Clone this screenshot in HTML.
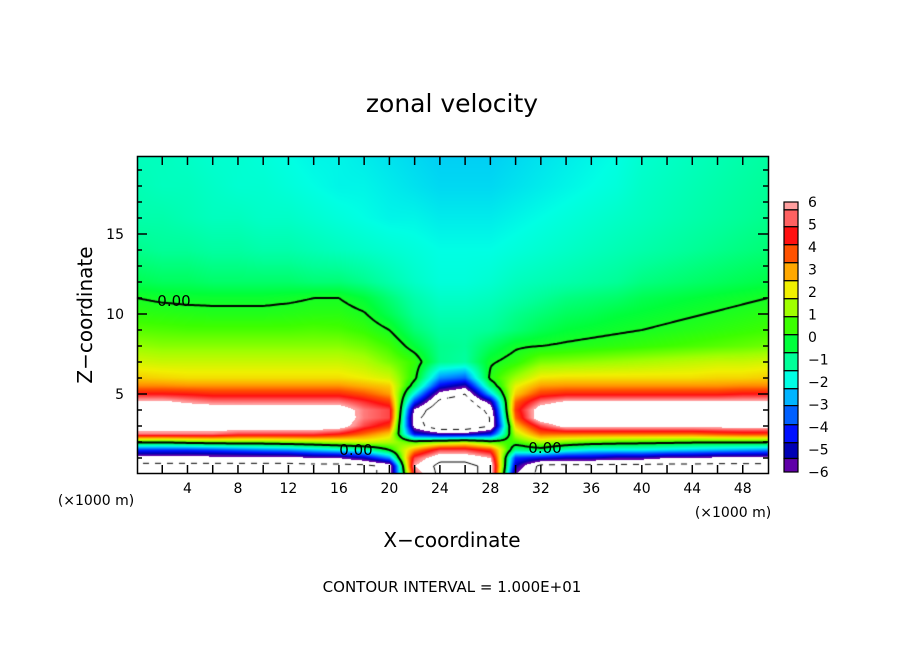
<!DOCTYPE html>
<html><head><meta charset="utf-8">
<style>
html,body{margin:0;padding:0;background:#fff;}
#root{position:relative;width:904px;height:654px;overflow:hidden;background:#fff;font-family:"DejaVu Sans","Liberation Sans",sans-serif;}
canvas{position:absolute;left:0;top:0;}
svg{position:absolute;left:0;top:0;}
</style></head>
<body>
<div id="root">
<canvas id="cv" width="904" height="654"></canvas>
<svg id="sv" width="904" height="654">
<text x="452" y="112" font-size="25" text-anchor="middle" fill="#000">zonal velocity</text>
<text x="452" y="547" font-size="20" text-anchor="middle" fill="#000">X−coordinate</text>
<text transform="translate(92,315) rotate(-90)" font-size="20" text-anchor="middle" fill="#000">Z−coordinate</text>
<text x="96" y="505" font-size="14" text-anchor="middle" fill="#000">(×1000 m)</text>
<text x="733" y="517" font-size="14" text-anchor="middle" fill="#000">(×1000 m)</text>
<text x="452" y="592" font-size="15" text-anchor="middle" fill="#000">CONTOUR INTERVAL = 1.000E+01</text>
<g id="ticks"></g>
<g id="cbar"></g>
<g id="clabels"></g>
</svg>
</div>
<script>
// ---- data ----
const xCols = [0,2,4,6,8,10,12,14,16,18,20,22,24,26,28,30,32,34,36,38,40,42,44,46,48,50];
const zLevels = [0,0.5,1,1.5,2,2.5,3,3.5,4,4.5,5,5.5,6,7,8,9,10,11,12,14,16,18,20];
const row_z0   = [-8,-8,-8,-8,-8,-8,-8,-8,-8,-8,-7,5,8,8,7,-6,-8,-8,-8,-8,-8,-8,-8,-8,-8,-8];
const row_z0_5 = [-8,-8,-8,-8,-8,-8,-8,-8,-8,-8,-7,6,8,8,7,-5,-8,-8,-8,-8,-8,-8,-8,-8,-8,-8];
const row_z1   = [-6.5,-6.5,-6.5,-6.5,-6.5,-6.5,-6.5,-6,-6,-5,-3,5,7,7,6,-4,-4.5,-5,-5,-5.5,-5.5,-6,-6,-6.3,-6.3,-6.3];
const row_z1_5 = [-4,-4,-4,-3.8,-3.5,-3.2,-3,-2.5,-2,-1.5,0,3,5,5,4,-1,-0.5,-1.5,-2,-2,-2,-2.2,-2.4,-2.6,-2.8,-3];
const row_z2   = [0.3,0.2,0.5,0.7,0.8,0.8,1,1.2,1.5,1.8,1.5,0.5,1,1.5,0.5,0.5,1.5,1,0.7,0.5,0.4,0.3,0.2,0.2,0.2,0.2];
const row_z2_5 = [5.5,5.5,5.5,5.5,5,5,5,5,4.5,3.5,2.5,-4.5,-5.5,-5.5,-4.5,1.5,3.5,3.5,3.5,3.5,3.5,3.5,3.5,3.8,4,4];
const row_z3   = [7,7,7,7,7,7,7,7,6.8,5,4,-6.5,-9,-9,-7.5,2.5,5,6.5,6.5,6.5,6.5,6.5,6.5,6.5,6.5,6.5];
const row_z3_5 = [7.2,7.2,7.2,7.2,7.2,7.2,7.2,7.2,7,5.5,5,-7,-9,-9,-7.5,3.5,7,7.2,7.2,7.2,7.2,7.2,7.2,7.2,7.2,7.2];
const row_z4   = [7.1,7.1,7.1,7,6.8,7,7,7,6.8,5.5,5,-6.2,-9,-9,-7,4,6.8,7.1,7.1,7.1,7.1,7.1,7.1,7.1,7.1,7.1];
const row_z4_5 = [6.3,6.3,5.8,5.5,5.5,5.5,5.5,5.5,5.5,4.8,4,-4,-8,-8.5,-5.5,3.5,5.5,6.2,6.2,6.2,6.2,6.2,6.2,6.2,6.2,6.2];
const row_z5   = [4.5,4.5,4.4,4.2,4.2,4.2,4.2,4.2,4.2,3.7,3,-2,-6.5,-7.5,-2.5,2.5,4,4.3,4.3,4.3,4.3,4.3,4.3,4.3,4.5,4.5];
const row_z5_5 = [3.2,3.2,3.1,3.1,3.1,3.1,3.1,3.1,3.1,2.8,2.5,-0.5,-4.5,-5.5,-0.7,2,3,3.1,3.1,3.1,3.1,3.1,3.1,3.1,3.2,3.2];
const row_z6   = [2.5,2.4,2.3,2.3,2.3,2.3,2.3,2.3,2.3,2.1,1.8,0.2,-3,-3.5,0.2,1.3,2.2,2.3,2.3,2.3,2.3,2.3,2.3,2.4,2.4,2.5];
const row_z7   = [1.8,1.7,1.7,1.7,1.7,1.7,1.7,1.7,1.7,1.5,1.0,0.4,-1.0,-1.2,-0.1,0.3,1.0,1.1,1.2,1.3,1.4,1.5,1.6,1.7,1.7,1.8];
const row_z8   = [1.2,1.1,1.1,1.1,1.1,1.1,1.1,1.1,1.1,0.9,0.5,-0.3,-1.0,-1.1,-0.6,-0.1,0.0,0.1,0.2,0.3,0.4,0.5,0.6,0.7,0.8,0.9];
const row_z9   = [0.7,0.65,0.6,0.6,0.6,0.6,0.6,0.65,0.6,0.4,0.0,-0.8,-1.2,-1.2,-1.1,-0.8,-0.5,-0.3,-0.2,-0.1,0.0,0.1,0.2,0.3,0.4,0.5];
const row_z10  = [0.3,0.25,0.2,0.15,0.15,0.15,0.2,0.25,0.25,0.05,-0.5,-1.1,-1.4,-1.4,-1.3,-1.0,-0.8,-0.6,-0.5,-0.35,-0.25,-0.15,-0.05,0.05,0.15,0.25];
const row_z11  = [0.0,-0.1,-0.15,-0.15,-0.15,-0.15,-0.1,0.0,0.0,-0.3,-0.8,-1.3,-1.6,-1.6,-1.5,-1.3,-1.1,-0.9,-0.8,-0.7,-0.5,-0.4,-0.3,-0.2,-0.1,0.0];
const row_z12  = [-0.5,-0.6,-0.6,-0.7,-0.7,-0.7,-0.7,-0.8,-0.8,-1.0,-1.3,-1.6,-1.8,-1.8,-1.7,-1.5,-1.4,-1.3,-1.2,-1.1,-0.9,-0.8,-0.7,-0.6,-0.5,-0.4];
const row_z14  = [-1.0,-1.1,-1.1,-1.2,-1.2,-1.3,-1.3,-1.4,-1.5,-1.6,-1.7,-1.8,-1.9,-1.9,-1.9,-1.8,-1.7,-1.6,-1.5,-1.4,-1.3,-1.2,-1.1,-1.0,-0.9,-0.8];
const row_z16  = [-1.3,-1.3,-1.4,-1.5,-1.5,-1.6,-1.6,-1.7,-1.8,-1.9,-2.0,-2.0,-2.1,-2.1,-2.1,-2.0,-1.9,-1.8,-1.7,-1.6,-1.5,-1.4,-1.3,-1.2,-1.1,-1.0];
const row_z18  = [-1.4,-1.5,-1.5,-1.6,-1.7,-1.7,-1.8,-1.9,-2.0,-2.0,-2.1,-2.2,-2.3,-2.3,-2.3,-2.2,-2.1,-2.0,-1.9,-1.8,-1.6,-1.5,-1.4,-1.3,-1.2,-1.1];
const row_z20  = [-1.5,-1.5,-1.6,-1.7,-1.7,-1.8,-1.9,-2.0,-2.0,-2.1,-2.2,-2.3,-2.4,-2.4,-2.4,-2.3,-2.2,-2.1,-2.0,-1.9,-1.7,-1.6,-1.5,-1.4,-1.3,-1.2];
const fieldRows = [row_z0,row_z0_5,row_z1,row_z1_5,row_z2,row_z2_5,row_z3,row_z3_5,row_z4,row_z4_5,row_z5,row_z5_5,row_z6,row_z7,row_z8,row_z9,row_z10,row_z11,row_z12,row_z14,row_z16,row_z18,row_z20];
const xTickLabels = [4,8,12,16,20,24,28,32,36,40,44,48];
const yTickLabels = [5,10,15];
const cbarLabels = [6,5,4,3,2,1,0,-1,-2,-3,-4,-5,-6];
const cbarBounds = [6,5.65,4.9,4.1,3.3,2.5,1.7,0.9,0.1,-0.7,-1.5,-2.3,-3.05,-3.9,-4.7,-5.4,-6];
const cbarColors = ['#ff9f9f','#ff6262','#ff1010','#ff5200','#ffa800','#f0f000','#a0ff00','#3cff00','#00ff3a','#00ff98','#00ffe4','#00b4ff','#0060ff','#0010ff','#0000b4','#6000a8'];

// ---- scales ----
const PL=137, PR=768, PT=156, PB=474;
const xScale = X => PL + X*(PR-PL)/50;
const yScale = Z => PB - Z*16;
const xInv = px => (px-PL)*50/(PR-PL);
const zInv = py => (PB-py)/16;

function field(X,Z){
  X=Math.max(0,Math.min(50,X)); Z=Math.max(0,Math.min(20,Z));
  let i=Math.min(xCols.length-2,Math.floor(X/2)); let tx=(X-xCols[i])/(xCols[i+1]-xCols[i]);
  let j=0; while(j<zLevels.length-2 && Z>zLevels[j+1]) j++;
  let tz=(Z-zLevels[j])/(zLevels[j+1]-zLevels[j]);
  const a=fieldRows[j][i],b=fieldRows[j][i+1],c=fieldRows[j+1][i],d=fieldRows[j+1][i+1];
  return (a*(1-tx)+b*tx)*(1-tz)+(c*(1-tx)+d*tx)*tz;
}
function hex(h){return [parseInt(h.substr(1,2),16),parseInt(h.substr(3,2),16),parseInt(h.substr(5,2),16)];}
const stops = cbarColors.map((c,k)=>({v:(cbarBounds[k]+cbarBounds[k+1])/2,c:hex(c)}));
function colorOf(v){
  if(v>6||v<-6) return [255,255,255];
  if(v>=stops[0].v) return stops[0].c;
  if(v<=stops[stops.length-1].v) return stops[stops.length-1].c;
  for(let k=0;k<stops.length-1;k++){
    const s0=stops[k],s1=stops[k+1];
    if(v<=s0.v&&v>=s1.v){const t=(s0.v-v)/(s0.v-s1.v);return [0,1,2].map(q=>s0.c[q]*(1-t)+s1.c[q]*t);}
  }
  return [255,255,255];
}

const cv=document.getElementById('cv'); const ctx=cv.getContext('2d');
const W=PR-PL, H=PB-PT;
const img=ctx.createImageData(W,H);
for(let py=0;py<H;py++){for(let px=0;px<W;px++){
  const v=field(xInv(PL+px+0.5),zInv(PT+py+0.5)); const c=colorOf(v); const o=(py*W+px)*4;
  img.data[o]=c[0];img.data[o+1]=c[1];img.data[o+2]=c[2];img.data[o+3]=255;}}
ctx.putImageData(img,PL,PT);

function contour(level,width,dashed){
  const st=2; ctx.strokeStyle='#000'; ctx.lineWidth=width; ctx.beginPath();
  const nx=Math.floor(W/st), ny=Math.floor(H/st); const g=[];
  for(let j=0;j<=ny;j++){g.push([]);for(let i=0;i<=nx;i++)g[j].push(field(xInv(PL+i*st),zInv(PT+j*st))-level);}
  for(let j=0;j<ny;j++)for(let i=0;i<nx;i++){
    const v=[g[j][i],g[j][i+1],g[j+1][i+1],g[j+1][i]];
    const p=[[0,0],[1,0],[1,1],[0,1]]; const pts=[];
    for(let e=0;e<4;e++){const a=v[e],b=v[(e+1)%4]; if((a<0)!==(b<0)){const t=a/(a-b);
      pts.push([PL+(i+p[e][0]+(p[(e+1)%4][0]-p[e][0])*t)*st, PT+(j+p[e][1]+(p[(e+1)%4][1]-p[e][1])*t)*st]);}}
    if(dashed && Math.floor((i+j)/3)%2) continue;
    for(let q=0;q+1<pts.length;q+=2){ctx.moveTo(pts[q][0],pts[q][1]);ctx.lineTo(pts[q+1][0],pts[q+1][1]);}
  }
  ctx.stroke();
}
ctx.save(); ctx.beginPath(); ctx.rect(PL,PT,W,H); ctx.clip();
contour(-7.5,1,true); contour(7.5,1,false); contour(0,2,false);
ctx.restore();

const NS='http://www.w3.org/2000/svg';
function mk(tag,attrs,parent){const e=document.createElementNS(NS,tag);for(const k in attrs)e.setAttribute(k,attrs[k]);parent.appendChild(e);return e;}
const tg=document.getElementById('ticks');
const frame=mk('rect',{x:PL+0.5,y:PT+0.5,width:W,height:H-1,fill:'none',stroke:'#000','stroke-width':1.5},tg);


for(let X=2;X<50;X+=2){
  const x=xScale(X);
  const t1=mk('line',{x1:x,y1:PB,x2:x,y2:PB-9,stroke:'#000','stroke-width':1.5},tg);
  
  
  const t2=mk('line',{x1:x,y1:PT,x2:x,y2:PT+9,stroke:'#000','stroke-width':1.5},tg);
  
  
}
xTickLabels.forEach(X=>{
  const t=mk('text',{x:xScale(X),y:493,'font-size':14,'text-anchor':'middle',fill:'#000'},tg); t.textContent=X;
  
  
});
for(let Z=1;Z<20;Z++){
  const y=yScale(Z); const L=(Z%5===0)?10:5;
  const a=mk('line',{x1:PL,y1:y,x2:PL+L,y2:y,stroke:'#000','stroke-width':1.5},tg);
  
  
  const b=mk('line',{x1:PR,y1:y,x2:PR-L,y2:y,stroke:'#000','stroke-width':1.5},tg);
  
  
}
yTickLabels.forEach(Z=>{
  const t=mk('text',{x:124,y:yScale(Z)+5,'font-size':14,'text-anchor':'end',fill:'#000'},tg); t.textContent=Z;
  
  
});
const cl=document.getElementById('clabels');
[[174,300],[356,449],[545,447]].forEach(p=>{
  const t=mk('text',{x:p[0],y:p[1]+6,'font-size':15,'text-anchor':'middle',fill:'#000'},cl); t.textContent='0.00';
  
  
});
const cb=document.getElementById('cbar');
const cbTop=202, cbBot=472, cbX=784, cbW=14;
const cbY = v => cbTop + (6-v)*(cbBot-cbTop)/12;
cbarColors.forEach((c,k)=>{
  const y1=cbY(cbarBounds[k]), y2=cbY(cbarBounds[k+1]);
  const r=mk('rect',{x:cbX,y:y1,width:cbW,height:y2-y1,fill:c,stroke:'#000','stroke-width':1.2},cb);
  
  
});
cbarLabels.forEach(v=>{
  const t=mk('text',{x:808,y:cbY(v)+5,'font-size':14,fill:'#000'},cb); t.textContent=(v<0?'−'+(-v):v);
  
  
});
</script>
</body></html>
